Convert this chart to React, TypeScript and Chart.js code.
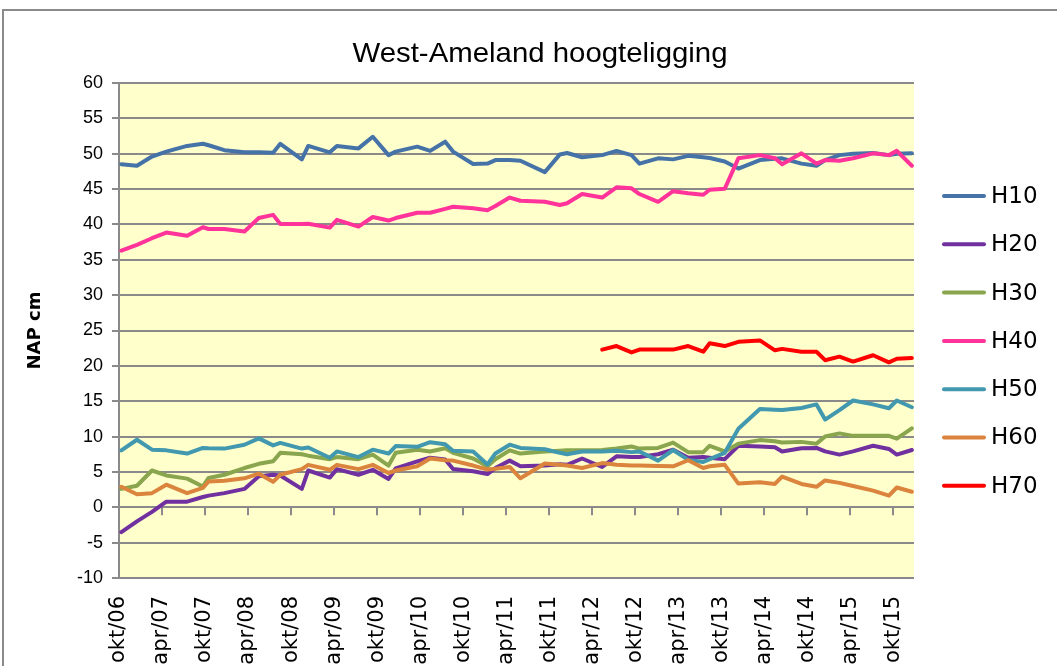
import { useEffect, useRef } from "react";
import { Chart, registerables } from "chart.js";
Chart.register(...registerables);

// months since 1 okt 2006 for each survey
const months = [
  0.33, 2.5, 4.6, 6.6, 9.5, 11.7, 12.5, 14.7, 17.5, 19.5,
  21.5, 22.5, 25.5, 26.4, 29.4, 30.4, 33.4, 35.4, 37.6, 38.6,
  41.6, 43.4, 45.5, 46.6, 49.4, 51.4, 52.5, 54.5, 56.0, 59.4,
  61.5, 62.5, 64.6, 67.4, 69.4, 71.5, 72.6, 75.2, 77.3, 79.4,
  81.5, 82.4, 84.5, 86.4, 89.4, 91.5, 92.5, 95.2, 97.3, 98.5,
  100.5, 102.4, 105.2, 107.4, 108.5, 110.6,
];

const tickLabels = [
  "okt/06", "apr/07", "okt/07", "apr/08", "okt/08", "apr/09", "okt/09",
  "apr/10", "okt/10", "apr/11", "okt/11", "apr/12", "okt/12", "apr/13",
  "okt/13", "apr/14", "okt/14", "apr/15", "okt/15",
];

const H10 = [
  48.5, 48.3, 49.6, 50.3, 51.1, 51.4, 51.2, 50.5, 50.2, 50.2,
  50.15, 51.4, 49.2, 51.1, 50.2, 51.1, 50.75, 52.4, 49.8, 50.3,
  51.0, 50.4, 51.7, 50.3, 48.55, 48.6, 49.1, 49.1, 49.0, 47.4,
  49.9, 50.1, 49.5, 49.8, 50.4, 49.8, 48.6, 49.35, 49.2, 49.7,
  49.5, 49.4, 48.9, 47.9, 49.1, 49.3, 49.35, 48.6, 48.3, 49.1,
  49.8, 50.0, 50.1, 49.8, 50.0, 50.05,
];
const H20 = [
  -3.5, -2.0, -0.65, 0.8, 0.8, 1.45, 1.65, 2.0, 2.6, 4.4,
  4.6, 4.5, 2.6, 5.2, 4.2, 5.4, 4.6, 5.3, 4.0, 5.5,
  6.5, 7.0, 6.75, 5.4, 5.1, 4.7, 5.55, 6.6, 5.8, 5.9,
  6.1, 6.0, 6.9, 5.7, 7.2, 7.1, 7.1, 7.5, 8.15, 7.0,
  7.1, 7.0, 6.8, 8.7, 8.6, 8.5, 7.9, 8.35, 8.4, 7.9,
  7.45, 7.9, 8.7, 8.25, 7.45, 8.1,
];
const H30 = [
  2.6, 3.05, 5.2, 4.5, 4.05, 2.95, 4.15, 4.6, 5.55, 6.15,
  6.5, 7.7, 7.5, 7.3, 6.8, 7.1, 6.8, 7.45, 5.9, 7.7,
  8.15, 7.9, 8.35, 7.7, 6.9, 5.8, 6.8, 8.05, 7.6, 7.9,
  8.0, 8.05, 8.05, 8.1, 8.3, 8.6, 8.3, 8.4, 9.15, 7.8,
  7.8, 8.7, 7.9, 9.0, 9.5, 9.35, 9.15, 9.25, 9.0, 10.0,
  10.45, 10.1, 10.1, 10.1, 9.7, 11.15,
];
const H40 = [
  36.3, 37.1, 38.05, 38.85, 38.4, 39.6, 39.35, 39.35, 39.0, 40.9,
  41.35, 40.05, 40.05, 40.1, 39.55, 40.65, 39.7, 41.05, 40.55, 40.9,
  41.65, 41.65, 42.2, 42.5, 42.3, 42.0, 42.6, 43.8, 43.35, 43.2,
  42.75, 43.0, 44.3, 43.8, 45.25, 45.1, 44.3, 43.2, 44.7, 44.4,
  44.2, 44.9, 45.05, 49.35, 49.8, 49.35, 48.5, 50.05, 48.6, 49.1,
  49.0, 49.35, 50.05, 49.8, 50.4, 48.3,
];
const H50 = [
  8.05, 9.55, 8.15, 8.05, 7.6, 8.4, 8.35, 8.3, 8.85, 9.75,
  8.75, 9.1, 8.3, 8.45, 7.0, 7.9, 7.1, 8.15, 7.6, 8.65,
  8.55, 9.2, 8.9, 8.0, 7.9, 6.05, 7.6, 8.85, 8.4, 8.2,
  7.7, 7.5, 7.9, 7.9, 8.0, 7.8, 7.9, 6.6, 8.1, 6.7,
  6.4, 6.8, 7.7, 11.1, 13.9, 13.8, 13.75, 14.05, 14.55, 12.4,
  13.75, 15.1, 14.55, 14.0, 15.1, 14.15,
];
const H60 = [
  2.9, 1.85, 2.0, 3.2, 2.0, 2.75, 3.65, 3.75, 4.1, 4.75,
  3.6, 4.6, 5.4, 6.0, 5.3, 6.0, 5.4, 6.0, 4.85, 5.2,
  5.8, 6.9, 6.65, 6.6, 5.9, 5.35, 5.45, 5.7, 4.1, 6.2,
  6.0, 5.9, 5.55, 6.25, 6.0, 5.9, 5.9, 5.85, 5.8, 6.65,
  5.55, 5.8, 6.0, 3.35, 3.55, 3.3, 4.35, 3.3, 2.9, 3.8,
  3.45, 3.0, 2.35, 1.65, 2.8, 2.2,
];
const H70 = [
  null, null, null, null, null, null, null, null, null, null,
  null, null, null, null, null, null, null, null, null, null,
  null, null, null, null, null, null, null, null, null, null,
  null, null, null, 22.3, 22.8, 21.9, 22.3, 22.3, 22.3, 22.8,
  22.0, 23.2, 22.8, 23.4, 23.6, 22.2, 22.4, 22.0, 22.0, 20.8,
  21.3, 20.6, 21.5, 20.5, 21.0, 21.1,
];

const seriesNames = ["H10", "H20", "H30", "H40", "H50", "H60", "H70"];
const seriesValues: (number | null)[][] = [H10, H20, H30, H40, H50, H60, H70];
const seriesColors = ["#4572A7", "#7030A0", "#89A54E", "#FF3399", "#4198AF", "#DB843D", "#FF0000"];

const titleText = "West-Ameland hoogteligging";
const yTitle = "NAP cm";

export default function App() {
  const ref = useRef<HTMLCanvasElement>(null);

  useEffect(() => {
    document.body.style.margin = "0";
    document.body.style.overflow = "hidden";
    const canvas = ref.current;
    if (!canvas) return;

    const datasets = seriesValues.map((vals, i) => ({
      label: seriesNames[i],
      data: months.map((m, j) => ({ x: m, y: vals[j] })),
      borderColor: seriesColors[i],
      backgroundColor: seriesColors[i],
      borderWidth: 4,
      pointRadius: 0,
      pointHoverRadius: 0,
      fill: false,
      tension: 0,
      spanGaps: false,
      borderJoinStyle: "round" as const,
      borderCapStyle: "round" as const,
      order: seriesNames.length - i,
    }));

    const decor = {
      id: "decor",
      beforeDraw(chart: any) {
        const { ctx, chartArea: a } = chart;
        ctx.save();
        ctx.fillStyle = "#ffffff";
        ctx.fillRect(0, 0, chart.width, chart.height);
        ctx.strokeStyle = "#8a8a8a";
        ctx.lineWidth = 2;
        ctx.strokeRect(3, 10, chart.width + 20, chart.height + 40);
        ctx.fillStyle = "#FFFFCC";
        ctx.fillRect(a.left, a.top, a.right - a.left, a.bottom - a.top);
        ctx.restore();
      },
      beforeDatasetsDraw(chart: any) {
        const { ctx } = chart;
        const xs = chart.scales.x;
        const ys = chart.scales.y;
        const y0 = ys.getPixelForValue(0);
        ctx.save();
        ctx.strokeStyle = "#8a8a8a";
        ctx.lineWidth = 2;
        ctx.beginPath();
        xs.ticks.forEach((t: any) => {
          const px = Math.round(xs.getPixelForValue(t.value));
          ctx.moveTo(px, y0);
          ctx.lineTo(px, y0 + 8);
        });
        ctx.stroke();
        ctx.restore();
      },
      afterDraw(chart: any) {
        const { ctx } = chart;
        ctx.save();
        ctx.fillStyle = "#000";
        ctx.font = '28px "Liberation Sans"';
        ctx.textBaseline = "alphabetic";
        ctx.textAlign = "left";
        const w = ctx.measureText(titleText).width;
        const targetW = 375;
        ctx.translate(540 - targetW / 2, 62);
        ctx.scale(targetW / w, 1);
        ctx.fillText(titleText, 0, 0);
        ctx.restore();

        // legend
        ctx.save();
        ctx.font = '23px "DejaVu Sans"';
        ctx.textAlign = "left";
        ctx.textBaseline = "middle";
        chart.data.datasets.forEach((ds: any, i: number) => {
          const y = 196 + i * 48.3;
          ctx.strokeStyle = ds.borderColor;
          ctx.lineWidth = 4;
          ctx.lineCap = "round";
          ctx.beginPath();
          ctx.moveTo(944, y);
          ctx.lineTo(984, y);
          ctx.stroke();
          ctx.fillStyle = "#000";
          ctx.fillText(ds.label, 991, y + 1);
        });
        ctx.restore();
      },
    };

    const chart = new Chart(canvas, {
      type: "line",
      data: { datasets },
      options: {
        animation: false,
        responsive: false,
        devicePixelRatio: 1,
        layout: { padding: { left: 0, top: 83, right: 143, bottom: 0 } },
        plugins: {
          legend: { display: false },
          title: { display: false },
          tooltip: { enabled: false },
        },
        scales: {
          x: {
            type: "linear",
            min: 0,
            max: 110.9,
            grid: { display: false, drawTicks: false },
            border: { display: false },
            afterBuildTicks: (s: any) => {
              s.ticks = tickLabels.map((_, i) => ({ value: i * 6 }));
            },
            afterFit: (s: any) => {
              s.height = 88;
            },
            ticks: {
              autoSkip: false,
              minRotation: 90,
              maxRotation: 90,
              padding: 18,
              color: "#000",
              font: { family: "DejaVu Sans", size: 21 },
              callback: (v: any) => tickLabels[Math.round(Number(v) / 6)] ?? "",
            },
          },
          y: {
            min: -10,
            max: 60,
            afterFit: (s: any) => {
              s.width = 119;
            },
            ticks: {
              stepSize: 5,
              padding: 9,
              color: "#000",
              font: { family: "Liberation Sans", size: 18 },
            },
            grid: { color: "#8a8a8a", lineWidth: 2, tickLength: 7 },
            border: { display: true, color: "#8a8a8a", width: 2 },
            title: {
              display: true,
              text: yTitle,
              color: "#000",
              font: { family: "DejaVu Sans", size: 18, weight: "bold" },
              padding: { top: 25, bottom: 0 },
            },
          },
        },
      },
      plugins: [decor],
    } as any);

    return () => chart.destroy();
  }, []);

  return (
    <div style={{ position: "fixed", left: 0, top: 0, width: 1057, height: 666, overflow: "hidden", background: "#fff" }}>
      <canvas ref={ref} width={1057} height={666} style={{ display: "block", width: 1057, height: 666 }} />
    </div>
  );
}
